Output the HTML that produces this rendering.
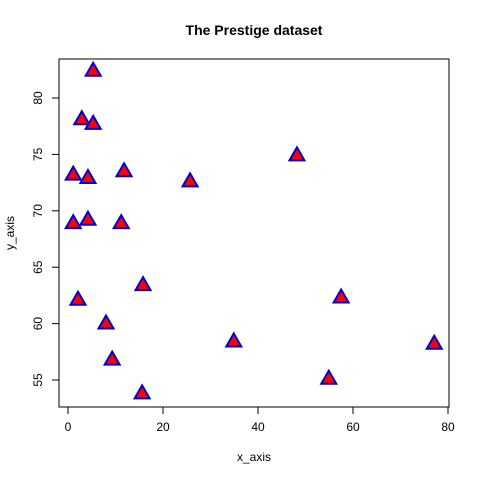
<!DOCTYPE html>
<html><head><meta charset="utf-8"><style>
html,body{margin:0;padding:0;background:#fff;}
svg{display:block;font-family:"Liberation Sans",Arial,sans-serif;}
</style></head><body>
<svg id="chart" width="480" height="480" viewBox="0 0 480 480">
<text x="254" y="35" text-anchor="middle" font-size="14" font-weight="bold">The Prestige dataset</text>
<rect x="59" y="59" width="390" height="348" fill="none" stroke="#000" stroke-width="1"/>
<g id="xaxis"></g>
<g id="yaxis"></g>
<text x="254" y="461" text-anchor="middle" font-size="12">x_axis</text>
<text transform="translate(14,233) rotate(-90)" text-anchor="middle" font-size="12">y_axis</text>
<g id="points"></g>
</svg>
<script>
const xValues=[5.3,2.9,5.3,1.1,4.2,11.8,25.7,48.2,1.1,4.2,11.2,2.1,15.8,57.5,8.0,9.3,34.9,77.1,54.9,15.6];
const yValues=[82.5,78.2,77.8,73.3,73.0,73.6,72.7,75.0,69.0,69.3,69.0,62.2,63.5,62.4,60.1,56.9,58.5,58.3,55.2,53.9];
const xTicks=[0,20,40,60,80];
const yTicks=[55,60,65,70,75,80];
const NS="http://www.w3.org/2000/svg";
function sx(v){return 68+v*4.75;}
function sy(v){return 98+(80-v)*11.28;}
function mk(tag,attrs,parent){const e=document.createElementNS(NS,tag);for(const k in attrs)e.setAttribute(k,attrs[k]);parent.appendChild(e);return e;}
const xa=document.getElementById('xaxis'),ya=document.getElementById('yaxis'),pg=document.getElementById('points');
mk('line',{x1:sx(0),x2:sx(80),y1:407,y2:407,stroke:'#000'},xa);
xTicks.forEach(t=>{
  const l=mk('line',{x1:sx(t),x2:sx(t),y1:407,y2:414,stroke:'#000'},xa);
  
  
  const tx=mk('text',{x:sx(t),y:431,'text-anchor':'middle','font-size':12},xa);
  tx.textContent=t;
  
  
});
mk('line',{x1:59,x2:59,y1:sy(55),y2:sy(80),stroke:'#000'},ya);
yTicks.forEach(t=>{
  const l=mk('line',{x1:52,x2:59,y1:sy(t),y2:sy(t),stroke:'#000'},ya);
  
  
  const tx=mk('text',{transform:`translate(42,${sy(t)}) rotate(-90)`,'text-anchor':'middle','font-size':12},ya);
  tx.textContent=t;
  
  
});
xValues.forEach((v,i)=>{
  const cx=sx(v),cy=sy(yValues[i]);
  const p=mk('polygon',{points:`${cx},${cy-7} ${cx+7.5},${cy+6} ${cx-7.5},${cy+6}`,fill:'#ff0000',stroke:'#0000cc','stroke-width':2,'stroke-linejoin':'miter'},pg);
  
  
});
</script>
</body></html>
